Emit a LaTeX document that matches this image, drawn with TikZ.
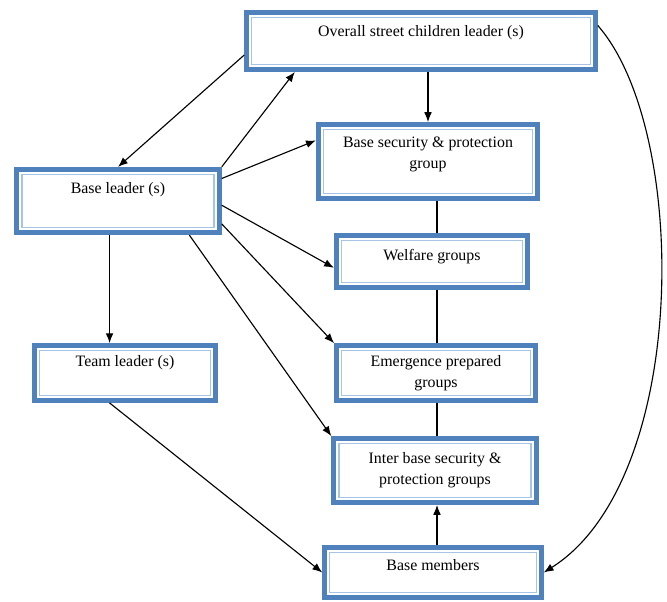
\documentclass[tikz,border=0pt]{standalone}
\usepackage{fontspec}
\setmainfont{Liberation Serif}
\usetikzlibrary{calc,arrows.meta}
\definecolor{colorbox}{HTML}{4F81BD}
\definecolor{colorinner}{HTML}{A7C4E5}
\tikzset{
  groupbox/.style={draw=colorbox, line width=3.5pt, fill=white, inner sep=0pt,
    align=center, font=\fontsize{11.3}{15}\selectfont,
    path picture={\draw[colorinner, line width=1pt]
      ([shift={(3.6pt,3.6pt)}]path picture bounding box.south west) rectangle
      ([shift={(-3.6pt,-3.6pt)}]path picture bounding box.north east);}},
  edgearr/.style={black, line width=0.8pt, -{Latex[length=7pt,width=5.5pt]}},
  edgeline/.style={black, line width=0.8pt}
}

\begin{document}
\begin{tikzpicture}[x=0.025cm, y=-0.025cm]
\useasboundingbox (0,0) rectangle (667,601);

\node[groupbox, minimum width=248pt, minimum height=40.5pt, text depth=13.8pt]
(overall) at (421,41) {Overall street children leader (s)};

\node[groupbox, minimum width=144pt, minimum height=45pt, text depth=18pt]
(base) at (118,201) {Base leader (s)};

\node[groupbox, minimum width=156pt, minimum height=52.6pt, text depth=13pt]
(bsec) at (428,161.5) {Base security \& protection\\group};

\node[groupbox, minimum width=136pt, minimum height=37pt, text depth=8.8pt]
(welfare) at (432,261.5) {Welfare groups};

\node[groupbox, minimum width=129pt, minimum height=39pt, text depth=16.6pt]
(team) at (125,373) {Team leader (s)};

\node[groupbox, minimum width=141.5pt, minimum height=39pt]
(emergence) at (436,373) {Emergence prepared\\groups};

\node[groupbox, minimum width=144pt, minimum height=45.5pt]
(inter) at (435,470.5) {Inter base security \&\\protection groups};

\node[groupbox, minimum width=154pt, minimum height=35.5pt, text depth=11pt]
(members) at (433,572.5) {Base members};

\coordinate (spine) at (437,0);

% arrows from the leaders
\draw[edgearr] ([yshift=-10pt]overall.west) -- (base.north);
\draw[edgearr] (base.north east) -- ([xshift=36pt]overall.south west);
\draw[edgearr] (overall.south -| bsec.north) -- (bsec.north);
\draw[edgearr] ([yshift=16pt]base.east) -- ([yshift=15pt]bsec.west);
\draw[edgearr] ([yshift=-3pt]base.east) -- ([yshift=-4.5pt]welfare.west);
\draw[edgearr] ([yshift=8pt]base.south east) -- (emergence.north west);
\draw[edgearr] ([xshift=-23pt]base.south east) -- (inter.north west);
\draw[edgearr] ([xshift=-6pt]base.south) -- ([xshift=-6pt]base.south |- team.north);
\draw[edgearr] ([xshift=-11pt]team.south) -- (members.west);
\draw[edgearr] (members.north -| spine) -- (inter.south -| spine);
\draw[edgearr] ([yshift=11pt]overall.east) .. controls +(92,105) and +(146,-92) .. (members.east);

% group column
\draw[edgeline] (bsec.south -| spine) -- (welfare.north -| spine);
\draw[edgeline] (welfare.south -| spine) -- (emergence.north -| spine);
\draw[edgeline] (emergence.south -| spine) -- (inter.north -| spine);
\end{tikzpicture}
\end{document}
